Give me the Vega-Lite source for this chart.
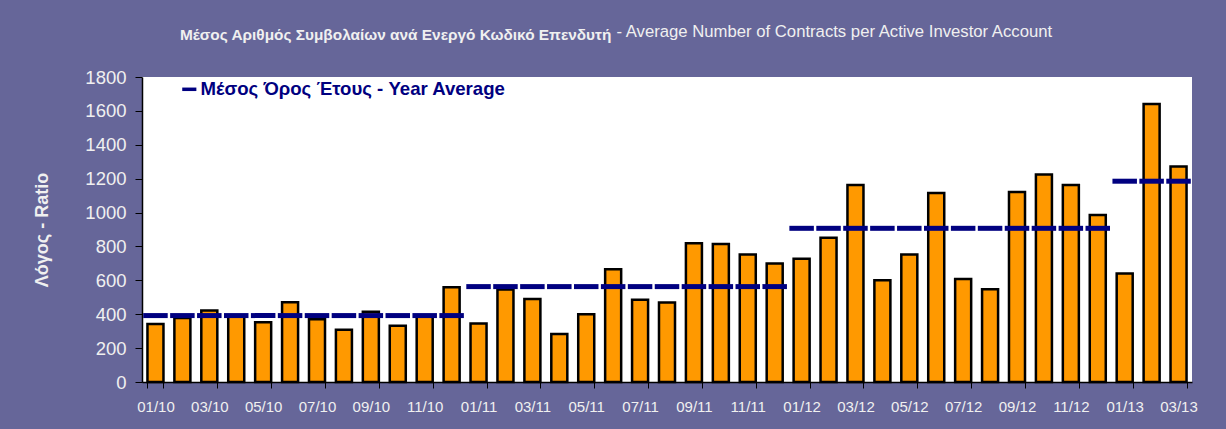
{
  "$schema": "https://vega.github.io/schema/vega-lite/v6.json",
  "width": 1050,
  "height": 305,
  "autosize": {"type": "none"},
  "padding": {"left": 142, "top": 77, "right": 34, "bottom": 47},
  "background": "#666699",
  "config": {
    "view": {"fill": "white", "stroke": null},
    "font": "Liberation Sans"
  },
  "title": {
    "text": "Μέσος Αριθμός Συμβολαίων ανά Ενεργό Κωδικό Επενδυτή",
    "anchor": "start",
    "frame": "group",
    "dx": 38,
    "dy": 62,
    "offset": 30,
    "baseline": "alphabetic",
    "font": "Liberation Sans",
    "fontSize": 15.4,
    "fontWeight": "bold",
    "color": "#f0f0f0"
  },
  "data": {
    "values": [
      {"month": "01/10", "value": 343, "yearAvg": 392},
      {"month": "02/10", "value": 377, "yearAvg": 392},
      {"month": "03/10", "value": 422, "yearAvg": 392},
      {"month": "04/10", "value": 386, "yearAvg": 392},
      {"month": "05/10", "value": 353, "yearAvg": 392},
      {"month": "06/10", "value": 471, "yearAvg": 392},
      {"month": "07/10", "value": 371, "yearAvg": 392},
      {"month": "08/10", "value": 308, "yearAvg": 392},
      {"month": "09/10", "value": 414, "yearAvg": 392},
      {"month": "10/10", "value": 332, "yearAvg": 392},
      {"month": "11/10", "value": 386, "yearAvg": 392},
      {"month": "12/10", "value": 559, "yearAvg": 392},
      {"month": "01/11", "value": 345, "yearAvg": 563},
      {"month": "02/11", "value": 546, "yearAvg": 563},
      {"month": "03/11", "value": 490, "yearAvg": 563},
      {"month": "04/11", "value": 284, "yearAvg": 563},
      {"month": "05/11", "value": 400, "yearAvg": 563},
      {"month": "06/11", "value": 665, "yearAvg": 563},
      {"month": "07/11", "value": 485, "yearAvg": 563},
      {"month": "08/11", "value": 469, "yearAvg": 563},
      {"month": "09/11", "value": 819, "yearAvg": 563},
      {"month": "10/11", "value": 815, "yearAvg": 563},
      {"month": "11/11", "value": 752, "yearAvg": 563},
      {"month": "12/11", "value": 699, "yearAvg": 563},
      {"month": "01/12", "value": 728, "yearAvg": 907},
      {"month": "02/12", "value": 852, "yearAvg": 907},
      {"month": "03/12", "value": 1162, "yearAvg": 907},
      {"month": "04/12", "value": 600, "yearAvg": 907},
      {"month": "05/12", "value": 752, "yearAvg": 907},
      {"month": "06/12", "value": 1115, "yearAvg": 907},
      {"month": "07/12", "value": 608, "yearAvg": 907},
      {"month": "08/12", "value": 548, "yearAvg": 907},
      {"month": "09/12", "value": 1121, "yearAvg": 907},
      {"month": "10/12", "value": 1225, "yearAvg": 907},
      {"month": "11/12", "value": 1162, "yearAvg": 907},
      {"month": "12/12", "value": 985, "yearAvg": 907},
      {"month": "01/13", "value": 640, "yearAvg": 1185},
      {"month": "02/13", "value": 1641, "yearAvg": 1185},
      {"month": "03/13", "value": 1272, "yearAvg": 1185}
    ]
  },
  "resolve": {"axis": {"x": "independent"}},
  "layer": [
    {
      "mark": {"type": "bar", "fill": "#FF9900", "stroke": "#000000", "strokeWidth": 2.5},
      "encoding": {
        "x": {
          "field": "month",
          "type": "ordinal",
          "sort": null,
          "scale": {"paddingInner": 0.405, "paddingOuter": 0.2025},
          "axis": {
            "title": null,
            "values": ["01/10","03/10","05/10","07/10","09/10","11/10","01/11","03/11","05/11","07/11","09/11","11/11","01/12","03/12","05/12","07/12","09/12","11/12","01/13","03/13"],
            "tickBand": "extent",
            "labelAngle": 0,
            "labelOverlap": false,
            "labelFont": "Liberation Sans",
            "labelFontSize": 15,
            "labelColor": "#f0f0f0",
            "labelPadding": 11,
            "tickSize": 6,
            "tickColor": "#000000",
            "tickWidth": 1,
            "domainColor": "#000000",
            "domainWidth": 1.5
          }
        },
        "y": {
          "field": "value",
          "type": "quantitative",
          "scale": {"domain": [0, 1800], "nice": false},
          "axis": {
            "title": "Λόγος - Ratio",
            "titleFont": "Liberation Sans",
            "titleFontSize": 18,
            "titleFontWeight": "bold",
            "titleColor": "#f0f0f0",
            "titleX": -100,
            "titleY": 152.5,
            "titleAngle": -90,
            "titleAlign": "center",
            "titleBaseline": "middle",
            "values": [0, 200, 400, 600, 800, 1000, 1200, 1400, 1600, 1800],
            "tickCount": 10,
            "format": "d",
            "labelOverlap": false,
            "grid": false,
            "labelFont": "Liberation Sans",
            "labelFontSize": 18.5,
            "labelColor": "#f0f0f0",
            "labelPadding": 9,
            "tickSize": 7,
            "tickColor": "#000000",
            "domainColor": "#000000",
            "domainWidth": 1.5
          }
        }
      }
    },
    {
      "mark": {"type": "tick", "size": 24.5, "thickness": 5, "opacity": 1},
      "encoding": {
        "x": {
          "field": "month",
          "type": "ordinal",
          "sort": null,
          "axis": {
            "orient": "top",
            "domain": false,
            "ticks": false,
            "labels": false,
            "title": "- Average Number of Contracts per Active Investor Account",
            "titleFont": "Liberation Sans",
            "titleFontSize": 16.7,
            "titleFontWeight": "normal",
            "titleColor": "#f0f0f0",
            "titleX": 474,
            "titleY": -41,
            "titleAlign": "left",
            "titleBaseline": "alphabetic",
            "titleLimit": 0
          }
        },
        "y": {
          "field": "yearAvg",
          "type": "quantitative",
          "axis": {
            "title": "Λόγος - Ratio",
            "titleFont": "Liberation Sans",
            "titleFontSize": 18,
            "titleFontWeight": "bold",
            "titleColor": "#f0f0f0",
            "titleX": -100,
            "titleY": 152.5,
            "titleAngle": -90,
            "titleAlign": "center",
            "titleBaseline": "middle",
            "values": [0, 200, 400, 600, 800, 1000, 1200, 1400, 1600, 1800],
            "tickCount": 10,
            "format": "d",
            "labelOverlap": false,
            "grid": false,
            "labelFont": "Liberation Sans",
            "labelFontSize": 18.5,
            "labelColor": "#f0f0f0",
            "labelPadding": 9,
            "tickSize": 7,
            "tickColor": "#000000",
            "domainColor": "#000000",
            "domainWidth": 1.5
          }
        },
        "color": {
          "datum": "Μέσος Όρος Έτους - Year Average",
          "scale": {"range": ["#000080"]},
          "legend": {
            "title": null,
            "orient": "none",
            "legendX": 38,
            "legendY": 3,
            "padding": 0,
            "symbolType": "stroke",
            "symbolSize": 200,
            "symbolStrokeWidth": 3.5,
            "symbolStrokeColor": "#000080",
            "labelFont": "Liberation Sans",
            "labelFontSize": 18.6,
            "labelFontWeight": "bold",
            "labelColor": "#000080",
            "labelOffset": 2,
            "labelLimit": 0
          }
        }
      }
    }
  ]
}
